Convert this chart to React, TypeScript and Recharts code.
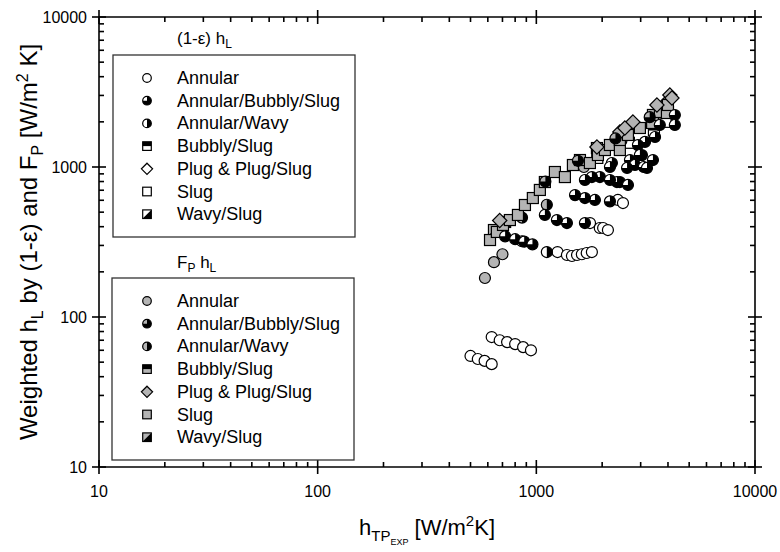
import React from "react";
import { ScatterChart, Scatter, XAxis, YAxis } from "recharts";

const FONT = "'Liberation Sans', Arial, Helvetica, sans-serif";
const GRAY = "#b4b4b4";

// axis ticks (major + minor) for the log axes
const majorTicks = [10, 100, 1000, 10000];
const allTicks = [
  10, 20, 30, 40, 50, 60, 70, 80, 90,
  100, 200, 300, 400, 500, 600, 700, 800, 900,
  1000, 2000, 3000, 4000, 5000, 6000, 7000, 8000, 9000, 10000,
];

// (1-e) hL series  [h_TP_exp, weighted hL]
const epsAnnular = [
  [500, 55], [540, 52.5], [580, 51], [625, 48.5],
  [625, 73.5], [680, 70], [735, 68], [800, 66], [870, 63], [945, 60],
  [1250, 271], [1380, 259], [1455, 255], [1535, 259], [1615, 262], [1700, 267], [1795, 271],
  [1760, 423], [1950, 392], [2020, 392], [2125, 380],
  [2360, 603], [2490, 575],
];
const epsAnnularBubbly = [
  [4300, 2220], [4300, 1905], [3670, 1905], [3490, 1585], [3140, 1470], [2915, 1400],
  [3040, 1200], [2680, 1113], [2825, 1031], [2600, 985], [3100, 1000], [3206, 985],
  [2216, 1063], [2171, 1000], [1953, 857], [1795, 857], [1668, 819],
  [3414, 1113], [2976, 1202], [2410, 794], [2337, 794], [2171, 819], [2624, 759],
  [1853, 603], [1668, 621], [1503, 650], [2171, 590],
  [1668, 423], [1380, 423], [1242, 443], [1094, 479],
  [720, 345], [800, 330], [880, 318], [960, 305],
];
const epsAnnularWavy = [[1117, 271], [860, 320]];
const epsBubblySlug = [[3450, 1750], [1900, 1150]];
const epsPlug = [[4000, 2750], [2750, 1850]];
const epsSlug = [[3900, 2000], [2650, 1450]];
const epsWavySlug = [[700, 395]];

// F_P hL series
const fpAnnular = [[582, 182], [640, 232], [700, 262], [1650, 1000], [2450, 1500]];
const fpAnnularBubbly = [[1100, 800], [1550, 1100], [2300, 1550], [3300, 2150]];
const fpAnnularWavy = [[1117, 560], [860, 460]];
const fpBubblySlug = [[4000, 2326], [3400, 2000], [700, 420]];
const fpPlug = [
  [4080, 3020], [4170, 2884], [3560, 2590], [2765, 1995], [2410, 1712], [2540, 1820], [1893, 1360], [680, 440],
];
const fpSlug = [
  [614, 326], [660, 369], [704, 411], [757, 443], [824, 479], [887, 558], [964, 621],
  [1038, 703], [1094, 794], [1216, 926], [1351, 857], [1470, 1031], [1583, 1113],
  [1758, 1063], [1893, 1338], [1913, 1202], [2059, 1298], [2171, 1402], [2410, 1298],
  [2410, 1514], [2624, 1635], [2976, 1820], [3384, 1965], [3414, 2223], [3673, 2326],
  [3956, 2291], [3998, 2591],
];
const fpWavySlug = [[640, 380], [720, 430]];

const legendNames = [
  "Annular", "Annular/Bubbly/Slug", "Annular/Wavy", "Bubbly/Slug",
  "Plug & Plug/Slug", "Slug", "Wavy/Slug",
];
const legendKinds = ["circle", "ball", "half", "bubbly", "diamond", "square", "wavy"];

const toPoints = (arr: number[][]) => arr.map(([x, y]) => ({ x, y }));

type MarkerProps = { kind: string; cx: number; cy: number; fill: string; s: number };

function Marker({ kind, cx, cy, fill, s }: MarkerProps) {
  const sw = 1.2;
  if (kind === "circle") {
    return <circle cx={cx} cy={cy} r={s} fill={fill} stroke="#000" strokeWidth={sw} />;
  }
  if (kind === "ball") {
    return (
      <g>
        <circle cx={cx} cy={cy} r={s} fill="#000" />
        <path d={`M${cx},${cy} L${cx - s},${cy} A${s},${s} 0 0 1 ${cx},${cy - s} Z`} fill={fill} />
        <circle cx={cx} cy={cy} r={s} fill="none" stroke="#000" strokeWidth={sw} />
      </g>
    );
  }
  if (kind === "half") {
    return (
      <g>
        <circle cx={cx} cy={cy} r={s} fill="#000" />
        <path d={`M${cx},${cy - s} A${s},${s} 0 0 0 ${cx},${cy + s} Z`} fill={fill} />
        <circle cx={cx} cy={cy} r={s} fill="none" stroke="#000" strokeWidth={sw} />
      </g>
    );
  }
  if (kind === "bubbly") {
    return (
      <g>
        <rect x={cx - s} y={cy - s} width={2 * s} height={2 * s} fill={fill} />
        <rect x={cx - s} y={cy - s} width={2 * s} height={s} fill="#000" />
        <rect x={cx - s} y={cy - s} width={2 * s} height={2 * s} fill="none" stroke="#000" strokeWidth={sw} />
      </g>
    );
  }
  if (kind === "diamond") {
    const d = s * 1.3;
    return (
      <path
        d={`M${cx},${cy - d} L${cx + d},${cy} L${cx},${cy + d} L${cx - d},${cy} Z`}
        fill={fill}
        stroke="#000"
        strokeWidth={sw}
      />
    );
  }
  if (kind === "square") {
    return <rect x={cx - s} y={cy - s} width={2 * s} height={2 * s} fill={fill} stroke="#000" strokeWidth={sw} />;
  }
  // wavy: upper-left light, lower-right black
  return (
    <g>
      <rect x={cx - s} y={cy - s} width={2 * s} height={2 * s} fill={fill} />
      <path d={`M${cx - s},${cy + s} L${cx + s},${cy + s} L${cx + s},${cy - s} Z`} fill="#000" />
      <rect x={cx - s} y={cy - s} width={2 * s} height={2 * s} fill="none" stroke="#000" strokeWidth={sw} />
    </g>
  );
}

const shapeOf = (kind: string, fill: string) => (p: any) =>
  <Marker kind={kind} cx={p.cx} cy={p.cy} fill={fill} s={5.5} />;

const isMajor = (v: number) => majorTicks.includes(v);
const TW = 1.6;

// tick marks: majors cross the frame, minors point inward
const bottomTick = (p: any) => {
  const x = Number(p.x);
  const y = Number(p.y);
  const m = isMajor(p.payload.value);
  return (
    <g key={`b${p.payload.value}`}>
      <line x1={x} x2={x} y1={y - (m ? 7 : 5)} y2={y + (m ? 7 : 0)} stroke="#000" strokeWidth={TW} />
      {m && (
        <text x={x} y={y + 30} textAnchor="middle" fontSize={16} fontFamily={FONT} fill="#000">
          {p.payload.value}
        </text>
      )}
    </g>
  );
};
const topTick = (p: any) => {
  const x = Number(p.x);
  const y = Number(p.y);
  const m = isMajor(p.payload.value);
  return (
    <g key={`t${p.payload.value}`}>
      <line x1={x} x2={x} y1={y - (m ? 7 : 0)} y2={y + (m ? 7 : 5)} stroke="#000" strokeWidth={TW} />
    </g>
  );
};
const leftTick = (p: any) => {
  const x = Number(p.x);
  const y = Number(p.y);
  const m = isMajor(p.payload.value);
  return (
    <g key={`l${p.payload.value}`}>
      <line x1={x - (m ? 7 : 0)} x2={x + (m ? 7 : 5)} y1={y} y2={y} stroke="#000" strokeWidth={TW} />
      {m && (
        <text x={x - 12} y={y + 6} textAnchor="end" fontSize={16} fontFamily={FONT} fill="#000">
          {p.payload.value}
        </text>
      )}
    </g>
  );
};
const rightTick = (p: any) => {
  const x = Number(p.x);
  const y = Number(p.y);
  const m = isMajor(p.payload.value);
  return (
    <g key={`r${p.payload.value}`}>
      <line x1={x - (m ? 7 : 5)} x2={x + (m ? 7 : 0)} y1={y} y2={y} stroke="#000" strokeWidth={TW} />
    </g>
  );
};

const XTitle = ({ viewBox }: any) => {
  const cx = viewBox.x + viewBox.width / 2;
  return (
    <text x={cx} y={viewBox.y + 68} textAnchor="middle" fontSize={22} fontFamily={FONT} fill="#000">
      h<tspan dy={6} fontSize={15}>TP</tspan>
      <tspan dy={4} fontSize={9}>EXP</tspan>
      <tspan dy={-10} fontSize={22}> [W/m</tspan>
      <tspan dy={-9} fontSize={15}>2</tspan>
      <tspan dy={9} fontSize={22}>K]</tspan>
    </text>
  );
};

const YTitle = ({ viewBox }: any) => {
  const cx = 37;
  const cy = viewBox.y + viewBox.height / 2;
  return (
    <text
      x={cx}
      y={cy}
      transform={`rotate(-90 ${cx} ${cy})`}
      textAnchor="middle"
      fontSize={24}
      fontFamily={FONT}
      fill="#000"
    >
      Weighted h<tspan dy={6} fontSize={16}>L</tspan>
      <tspan dy={-6} fontSize={24}> by (1-ε) and F</tspan>
      <tspan dy={6} fontSize={16}>P</tspan>
      <tspan dy={-6} fontSize={24}> [W/m</tspan>
      <tspan dy={-9} fontSize={16}>2</tspan>
      <tspan dy={9} fontSize={24}> K]</tspan>
    </text>
  );
};

function LegendBox({ x, y, h, light, title }: any) {
  return (
    <g fontFamily={FONT} fill="#000">
      {title}
      <rect x={x} y={y} width={242} height={h} fill="#fff" stroke="#333" strokeWidth={1.3} />
      {legendNames.map((name, i) => {
        const cy = y + 23 + i * 22.7;
        return (
          <g key={name}>
            <Marker kind={legendKinds[i]} cx={147} cy={cy} fill={light} s={4.3} />
            <text x={177} y={cy + 6} fontSize={18}>
              {name}
            </text>
          </g>
        );
      })}
    </g>
  );
}

const series = [
  { data: epsAnnular, kind: "circle", fill: "#fff" },
  { data: epsAnnularWavy, kind: "half", fill: "#fff" },
  { data: epsBubblySlug, kind: "bubbly", fill: "#fff" },
  { data: epsPlug, kind: "diamond", fill: "#fff" },
  { data: epsSlug, kind: "square", fill: "#fff" },
  { data: epsWavySlug, kind: "wavy", fill: "#fff" },
  { data: fpAnnular, kind: "circle", fill: GRAY },
  { data: fpAnnularWavy, kind: "half", fill: GRAY },
  { data: fpBubblySlug, kind: "bubbly", fill: GRAY },
  { data: fpWavySlug, kind: "wavy", fill: GRAY },
  { data: fpSlug, kind: "square", fill: GRAY },
  { data: fpPlug, kind: "diamond", fill: GRAY },
  { data: fpAnnularBubbly, kind: "ball", fill: GRAY },
  { data: epsAnnularBubbly, kind: "ball", fill: "#fff" },
];

const axisCommon = {
  type: "number" as const,
  scale: "log" as const,
  domain: [10, 10000],
  ticks: allTicks,
  interval: 0,
  allowDataOverflow: true,
  tickSize: 0,
  tickMargin: 0,
  tickLine: false,
  axisLine: { stroke: "#000", strokeWidth: 1.6 },
};

export default function App() {
  return (
    <div style={{ position: "absolute", left: 0, top: 0, width: 780, height: 552, background: "#fff" }}>
      <ScatterChart width={780} height={552} margin={{ top: 16, right: 24, bottom: 55, left: 39 }}>
        <XAxis xAxisId="b" dataKey="x" {...axisCommon} height={30} tick={bottomTick} label={{ content: <XTitle /> }} />
        <XAxis xAxisId="t" orientation="top" dataKey="x" {...axisCommon} height={1} tick={topTick} />
        <YAxis yAxisId="l" dataKey="y" {...axisCommon} width={60} tick={leftTick} label={{ content: <YTitle /> }} />
        <YAxis yAxisId="r" orientation="right" dataKey="y" {...axisCommon} width={1} tick={rightTick} />
        {series.map((s, i) => (
          <Scatter
            key={i}
            xAxisId="b"
            yAxisId="l"
            data={toPoints(s.data)}
            shape={shapeOf(s.kind, s.fill)}
            isAnimationActive={false}
          />
        ))}
        <Scatter xAxisId="t" yAxisId="r" data={[]} isAnimationActive={false} />
      </ScatterChart>
      <svg width={780} height={552} style={{ position: "absolute", left: 0, top: 0, pointerEvents: "none" }}>
        <LegendBox
          x={113}
          y={55}
          h={182}
          light="#fff"
          title={
            <text x={177} y={44} fontSize={17}>
              (1-ε) h<tspan dy={4} fontSize={12}>L</tspan>
            </text>
          }
        />
        <LegendBox
          x={112}
          y={278}
          h={182}
          light={GRAY}
          title={
            <text x={177} y={268} fontSize={17}>
              F<tspan dy={4} fontSize={12}>P</tspan>
              <tspan dy={-4} fontSize={17}> h</tspan>
              <tspan dy={4} fontSize={12}>L</tspan>
            </text>
          }
        />
      </svg>
    </div>
  );
}
